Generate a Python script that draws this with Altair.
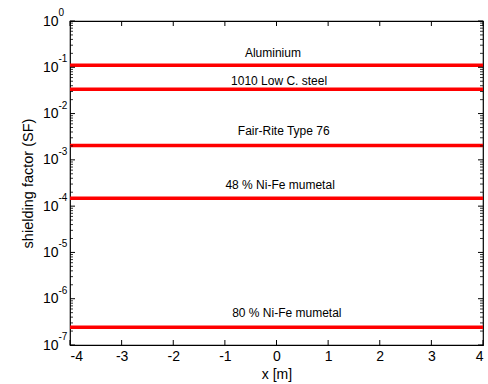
import altair as alt
import pandas as pd

materials = ["Aluminium", "1010 Low C. steel", "Fair-Rite Type 76",
             "48 % Ni-Fe mumetal", "80 % Ni-Fe mumetal"]
shielding = [0.11, 0.0335, 0.00203, 1.48e-4, 2.43e-7]
label_x = [-0.07, 0.05, 0.14, 0.07, 0.2]
label_sf = [0.204, 0.0495, 0.0042, 2.86e-4, 4.93e-7]
x_ends = [-4, 4]
x_ticks = [-4, -3, -2, -1, 0, 1, 2, 3, 4]
y_major = [1e-7, 1e-6, 1e-5, 1e-4, 1e-3, 1e-2, 1e-1, 1e0]
y_minor = [m * d for d in [1e-7, 1e-6, 1e-5, 1e-4, 1e-3, 1e-2, 1e-1]
           for m in [2, 3, 4, 5, 6, 7, 8, 9]]

W, H = 413, 324
FONT = "Liberation Sans"

lines_df = pd.DataFrame([{"material": m, "x": xe, "sf": s}
                         for m, s in zip(materials, shielding) for xe in x_ends])
labels_df = pd.DataFrame({"material": materials, "x": label_x, "sf": label_sf})
xt_df = pd.DataFrame({"x": x_ticks})
ymaj_df = pd.DataFrame({"v": y_major})
ymin_df = pd.DataFrame({"v": y_minor})

xs = alt.Scale(domain=[-4, 4], nice=False, zero=False)
ys = alt.Scale(type="log", domain=[1e-7, 1], nice=False)

lines = alt.Chart(lines_df).mark_line(color="#ff0000", strokeWidth=3.5, clip=True).encode(
    x=alt.X("x:Q", scale=xs, axis=alt.Axis(
        values=x_ticks, labelExpr="'' + datum.value",
        ticks=False, domain=False, grid=False, title="x [m]",
        labelFont=FONT, labelFontSize=14, labelColor="black", labelPadding=4,
        titleFont=FONT, titleFontSize=14, titleFontWeight="normal", titleColor="black",
        titlePadding=4)),
    y=alt.Y("sf:Q", scale=ys, axis=alt.Axis(
        values=y_major, labelExpr="'10'", ticks=False, domain=False, grid=False,
        title="shielding factor (SF)", labelFont=FONT, labelFontSize=14,
        labelColor="black", labelPadding=12,
        titleFont=FONT, titleFontSize=14.5, titleFontWeight="normal", titleColor="black",
        titlePadding=7)),
    detail="material:N",
)

exps = alt.Chart(ymaj_df).mark_point(opacity=0).encode(
    y=alt.Y("v:Q", scale=ys, axis=alt.Axis(
        orient="left", values=y_major,
        labelExpr="'' + round(log(datum.value) / LN10)",
        ticks=False, domain=False, grid=False, title=None,
        labelFont=FONT, labelFontSize=10, labelColor="black",
        labelAlign="left", labelPadding=12, labelOffset=-8.5)),
)

texts = alt.Chart(labels_df).mark_text(font=FONT, fontSize=12, color="black").encode(
    x=alt.X("x:Q", scale=xs, axis=None),
    y=alt.Y("sf:Q", scale=ys, axis=None),
    text="material:N",
)

ymaj_l = alt.Chart(ymaj_df).mark_rule(color="black", strokeWidth=1).encode(
    y=alt.Y("v:Q", scale=ys, axis=None), x=alt.value(0), x2=alt.value(5))
ymaj_r = alt.Chart(ymaj_df).mark_rule(color="black", strokeWidth=1).encode(
    y=alt.Y("v:Q", scale=ys, axis=None), x=alt.value(W - 5), x2=alt.value(W))
ymin_l = alt.Chart(ymin_df).mark_rule(color="black", strokeWidth=0.8).encode(
    y=alt.Y("v:Q", scale=ys, axis=None), x=alt.value(0), x2=alt.value(3))
ymin_r = alt.Chart(ymin_df).mark_rule(color="black", strokeWidth=0.8).encode(
    y=alt.Y("v:Q", scale=ys, axis=None), x=alt.value(W - 3), x2=alt.value(W))
xt_b = alt.Chart(xt_df).mark_rule(color="black", strokeWidth=1).encode(
    x=alt.X("x:Q", scale=xs, axis=None), y=alt.value(H - 5), y2=alt.value(H))
xt_t = alt.Chart(xt_df).mark_rule(color="black", strokeWidth=1).encode(
    x=alt.X("x:Q", scale=xs, axis=None), y=alt.value(0), y2=alt.value(5))

chart = alt.layer(
    lines, exps, texts, ymaj_l, ymaj_r, ymin_l, ymin_r, xt_b, xt_t
).resolve_axis(x="independent", y="independent").properties(
    width=W, height=H,
    autosize=alt.AutoSizeParams(type="none"),
    padding={"left": 70, "top": 21, "right": 5, "bottom": 39},
    background="white",
).configure_view(stroke="black", strokeWidth=1.2)

chart.save("out.html", embed_options={"renderer": "svg", "actions": False})
